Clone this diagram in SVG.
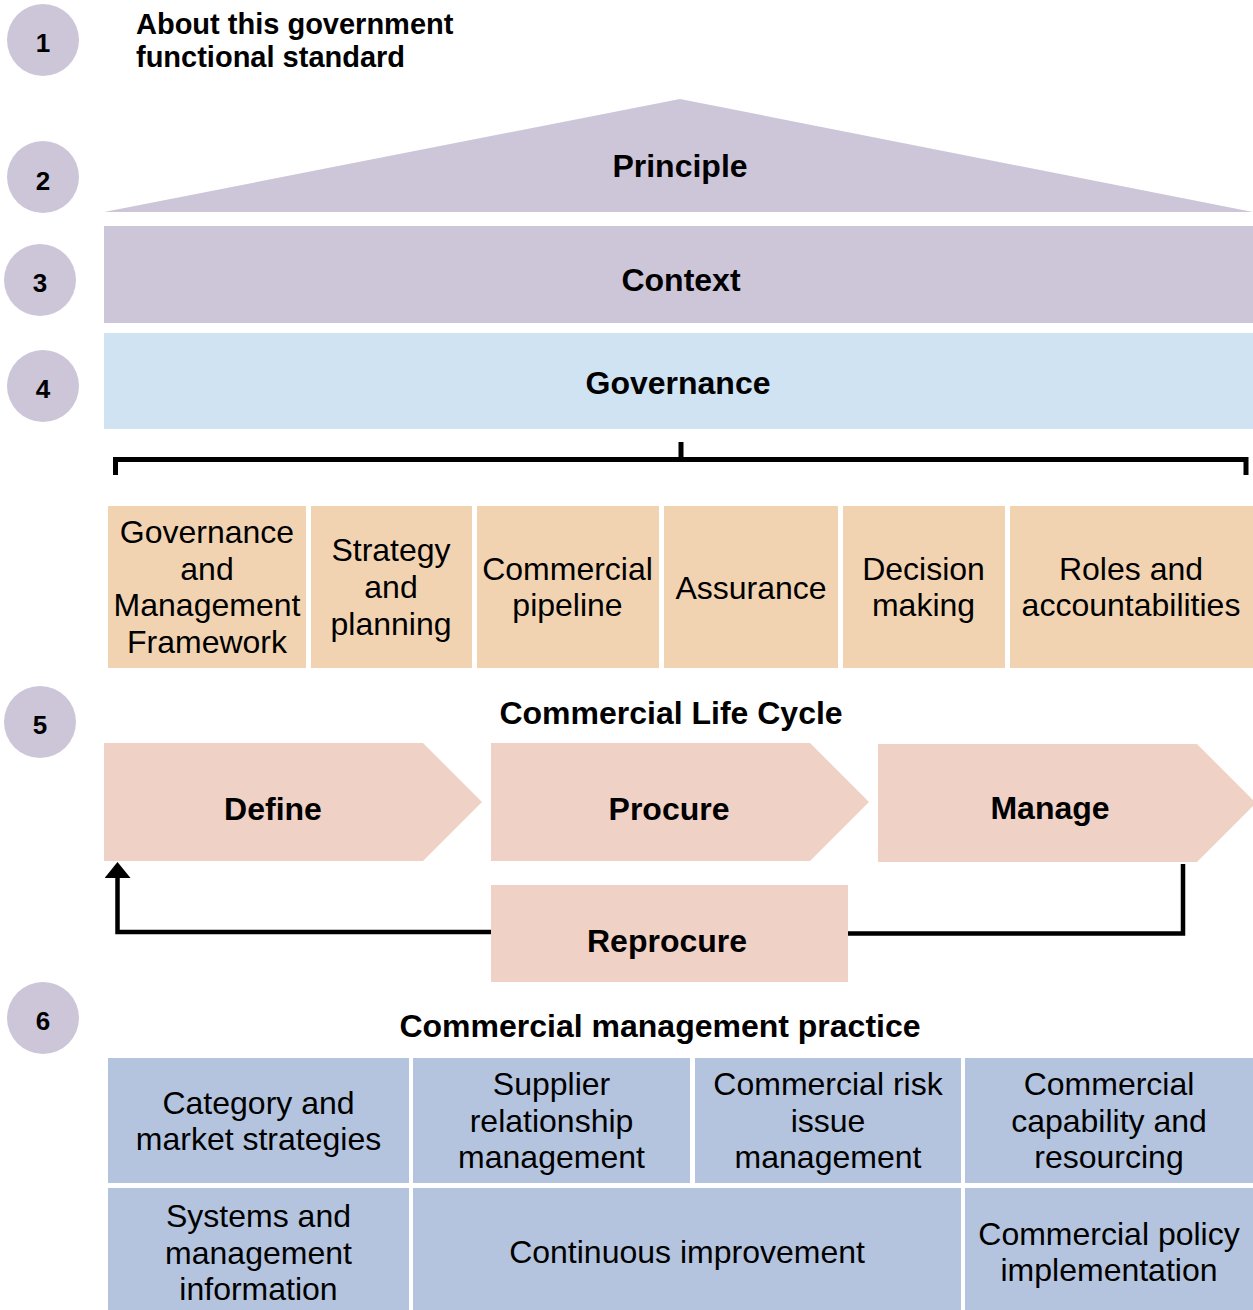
<svg xmlns="http://www.w3.org/2000/svg" width="1253" height="1310" viewBox="0 0 1253 1310">
<defs>
<style>
text{font-family:"Liberation Sans",Arial,sans-serif;fill:#000;}
.b{font-weight:bold;font-size:32px;text-anchor:middle;}
.r{font-size:32px;text-anchor:middle;}
.num{font-weight:bold;font-size:26px;text-anchor:middle;}
.circ{fill:#CDC6D9;}
.lav{fill:#CDC6D9;}
.gov{fill:#CFE3F2;}
.org{fill:#F2D3B1;}
.pink{fill:#F0D1C6;}
.blue{fill:#B4C4DE;}
.line{fill:none;stroke:#000;stroke-width:4.5;}
</style>
<marker id="arr" viewBox="0 0 16 26" refX="0" refY="13" markerWidth="16" markerHeight="26" markerUnits="userSpaceOnUse" orient="auto">
<path d="M0,0 L16,13 L0,26 Z" fill="#000"/>
</marker>
</defs>
<rect width="1253" height="1310" fill="#fff"/>

<g id="n1"><circle class="circ" cx="43" cy="40" r="36"/><text class="num" x="43" y="52">1</text></g>
<g id="n2"><circle class="circ" cx="43" cy="177" r="36"/><text class="num" x="43" y="190">2</text></g>
<g id="n3"><circle class="circ" cx="40" cy="280" r="36"/><text class="num" x="40" y="292">3</text></g>
<g id="n4"><circle class="circ" cx="43" cy="386" r="36"/><text class="num" x="43" y="398">4</text></g>
<g id="n5"><circle class="circ" cx="40" cy="722" r="36"/><text class="num" x="40" y="734">5</text></g>
<g id="n6"><circle class="circ" cx="43" cy="1018" r="36"/><text class="num" x="43" y="1030">6</text></g>

<g id="about"><text x="136" y="34" font-weight="bold" font-size="29">About this government</text><text x="136" y="67" font-weight="bold" font-size="29">functional standard</text></g>

<g id="principle"><polygon class="lav" points="104,212 680,99 1253,212"/><text class="b" x="680" y="177">Principle</text></g>
<g id="context"><rect class="lav" x="104" y="226" width="1149" height="97"/><text class="b" x="681" y="291">Context</text></g>
<g id="governance"><rect class="gov" x="104" y="333" width="1149" height="96"/><text class="b" x="678" y="394">Governance</text></g>

<g id="gov1"><rect class="org" x="108" y="506" width="198" height="162"/><text class="r" x="207" y="543">Governance</text><text class="r" x="207" y="580">and</text><text class="r" x="207" y="616">Management</text><text class="r" x="207" y="653">Framework</text></g>
<g id="gov2"><rect class="org" x="311" y="506" width="161" height="162"/><text class="r" x="391" y="561">Strategy</text><text class="r" x="391" y="598">and</text><text class="r" x="391" y="635">planning</text></g>
<g id="gov3"><rect class="org" x="477" y="506" width="182" height="162"/><text class="r" x="567.5" y="580">Commercial</text><text class="r" x="567.5" y="616">pipeline</text></g>
<g id="gov4"><rect class="org" x="664" y="506" width="174" height="162"/><text class="r" x="751" y="599">Assurance</text></g>
<g id="gov5"><rect class="org" x="843" y="506" width="162" height="162"/><text class="r" x="923.5" y="580">Decision</text><text class="r" x="923.5" y="616">making</text></g>
<g id="gov6"><rect class="org" x="1010" y="506" width="243" height="162"/><text class="r" x="1131" y="580">Roles and</text><text class="r" x="1131" y="616">accountabilities</text></g>

<g id="lifecycle-title"><text class="b" x="671" y="724">Commercial Life Cycle</text></g>
<g id="define"><polygon class="pink" points="104,743 423,743 482,802 423,861 104,861"/><text class="b" x="273" y="820">Define</text></g>
<g id="procure"><polygon class="pink" points="491,743 810,743 869,802 810,861 491,861"/><text class="b" x="669" y="820">Procure</text></g>
<g id="manage"><polygon class="pink" points="878,744 1197,744 1256,803 1197,862 878,862"/><text class="b" x="1050" y="819">Manage</text></g>
<g id="reprocure"><rect class="pink" x="491" y="885" width="357" height="97"/><text class="b" x="667" y="952">Reprocure</text></g>

<g id="practice-title"><text class="b" x="660" y="1037">Commercial management practice</text></g>
<g id="p1"><rect class="blue" x="108" y="1058" width="301" height="125"/><text class="r" x="258.5" y="1114">Category and</text><text class="r" x="258.5" y="1150">market strategies</text></g>
<g id="p2"><rect class="blue" x="413" y="1058" width="277" height="125"/><text class="r" x="551.5" y="1095">Supplier</text><text class="r" x="551.5" y="1132">relationship</text><text class="r" x="551.5" y="1168">management</text></g>
<g id="p3"><rect class="blue" x="695" y="1058" width="266" height="125"/><text class="r" x="828" y="1095">Commercial risk</text><text class="r" x="828" y="1132">issue</text><text class="r" x="828" y="1168">management</text></g>
<g id="p4"><rect class="blue" x="965" y="1058" width="288" height="125"/><text class="r" x="1109" y="1095">Commercial</text><text class="r" x="1109" y="1132">capability and</text><text class="r" x="1109" y="1168">resourcing</text></g>
<g id="p5"><rect class="blue" x="108" y="1188" width="301" height="130"/><text class="r" x="258.5" y="1227">Systems and</text><text class="r" x="258.5" y="1264">management</text><text class="r" x="258.5" y="1300">information</text></g>
<g id="p6"><rect class="blue" x="413" y="1188" width="548" height="130"/><text class="r" x="687" y="1263">Continuous improvement</text></g>
<g id="p7"><rect class="blue" x="965" y="1188" width="288" height="130"/><text class="r" x="1109" y="1245">Commercial policy</text><text class="r" x="1109" y="1281">implementation</text></g>

<g id="connectors">
<path d="M115.5,475 V459.5 H1246 V475 M681,442 V459.5" fill="none" stroke="#000" stroke-width="5"/>
<path class="line" d="M1183,864 V933.5 H848"/>
<path class="line" d="M491,932 H117.5 V878" marker-end="url(#arr)"/>
</g>
</svg>
